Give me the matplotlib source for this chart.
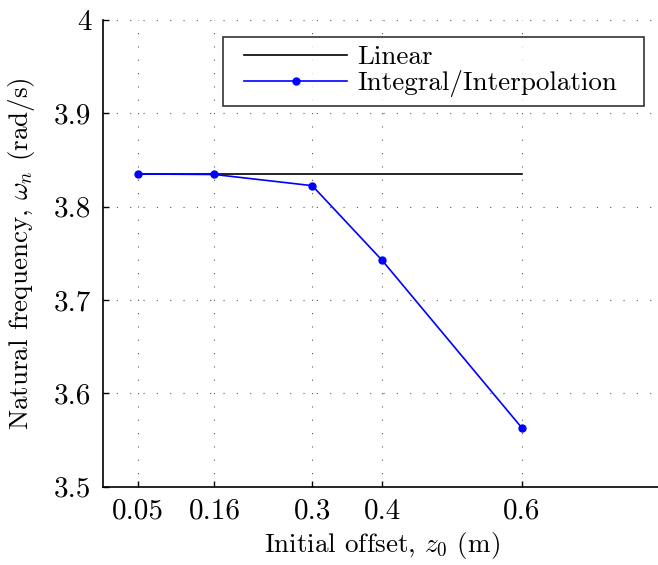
import numpy as np
import matplotlib
matplotlib.use("Agg")
import matplotlib.pyplot as plt
from matplotlib.legend_handler import HandlerLine2D

plt.rcParams['font.family'] = 'serif'
plt.rcParams['font.serif'] = ['cmr10']
plt.rcParams['mathtext.fontset'] = 'cm'
plt.rcParams['axes.unicode_minus'] = False

# data
offsets = [0.05, 0.16, 0.3, 0.4, 0.6]
linear_freq = [3.835, 3.835, 3.835, 3.835, 3.835]
interp_freq = [3.835, 3.8345, 3.8225, 3.7425, 3.563]
xtick_vals = [0.05, 0.16, 0.3, 0.4, 0.6]
xtick_labels = ['0.05', '0.16', '0.3', '0.4', '0.6']
ytick_vals = [3.5, 3.6, 3.7, 3.8, 3.9, 4.0]
ytick_labels = ['3.5', '3.6', '3.7', '3.8', '3.9', '4']

fig = plt.figure(figsize=(6.58, 5.65), dpi=100)
ax = fig.add_axes([0.156, 0.1386, 1.0055 - 0.156, 0.9646 - 0.1386])

l1, = ax.plot(offsets, linear_freq, color='black', lw=1.2, label='Linear')
l2, = ax.plot(offsets, interp_freq, color='blue', lw=1.2, marker='o', ms=5,
              label='Integral/Interpolation')

ax.set_xlim(0, 0.8)
ax.set_ylim(3.5, 4.0)
ax.set_xticks(xtick_vals)
ax.set_xticklabels(xtick_labels)
ax.set_yticks(ytick_vals)
ax.set_yticklabels(ytick_labels)

for s in ['top', 'right']:
    ax.spines[s].set_visible(False)
for s in ['left', 'bottom']:
    ax.spines[s].set_linewidth(1.2)

ax.tick_params(direction='in', length=4, width=1.0, labelsize=21, pad=8)
ax.grid(True, color='#555555', lw=0.8, linestyle=(0, (1, 11)))

ax.set_xlabel(r'Initial offset, $z_0$ (m)', fontsize=19.5, labelpad=4)
ax.set_ylabel(r'Natural frequency, $\omega_n$ (rad/s)', fontsize=19.5, labelpad=12)

# legend box stretched to a fixed width, handles inset from the left edge
hmap = {l1: HandlerLine2D(xpad=0.48), l2: HandlerLine2D(xpad=0.48)}
leg = ax.legend(handler_map=hmap, loc='upper left', mode='expand',
                bbox_to_anchor=(0.2153, 0.7636, 0.7532, 0.2), fontsize=19.5,
                frameon=True, fancybox=False, edgecolor='black',
                handlelength=4.28, handletextpad=0.37, borderpad=0.3,
                labelspacing=0.05, borderaxespad=0)
leg.get_frame().set_linewidth(1.2)

fig.savefig('out.png', dpi=100)
